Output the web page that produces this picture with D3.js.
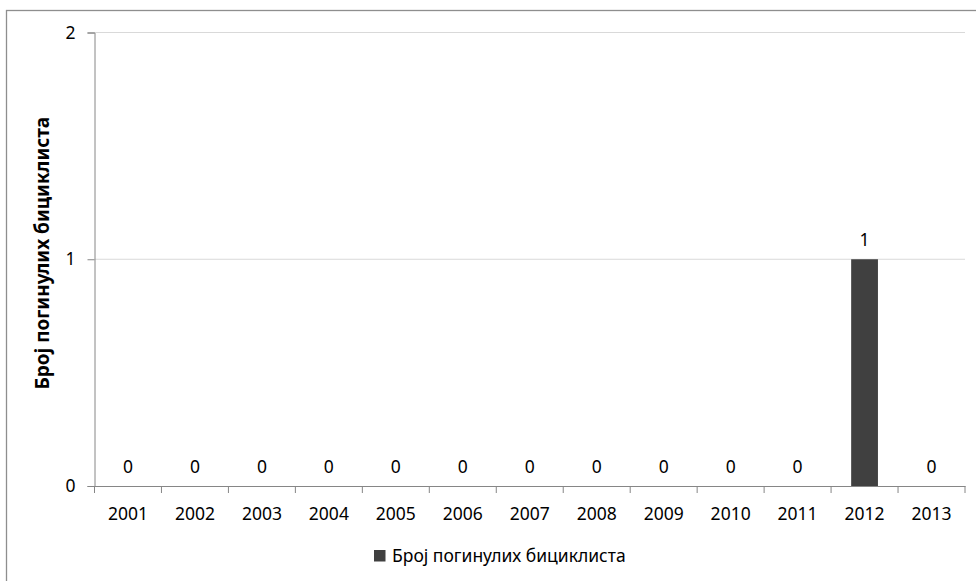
<!DOCTYPE html>
<html>
<head>
<meta charset="utf-8">
<script src="https://cdn.jsdelivr.net/npm/d3@7"></script>
<style>
  html, body { margin: 0; padding: 0; background: #fff; }
  svg { display: block; }
  text { font-family: "Noto Sans", "Open Sans", sans-serif; fill: #000; }
</style>
</head>
<body>
<svg id="chart" width="976" height="581"></svg>
<script>
// Chart data
const years = ["2001","2002","2003","2004","2005","2006","2007","2008","2009","2010","2011","2012","2013"];
const deaths = [0,0,0,0,0,0,0,0,0,0,0,1,0];
const yTicks = [0, 1, 2];
const seriesName = "Број погинулих бициклиста";
const yTitle = "Број погинулих бициклиста";

const svg = d3.select("#chart");
const W = 976, H = 581;

// Outer chart frame
svg.append("rect")
  .attr("x", 6.5).attr("y", 10.5)
  .attr("width", W + 20).attr("height", H + 20)
  .attr("fill", "#fff").attr("stroke", "#8e8e8e").attr("stroke-width", 1.3);

const plot = { left: 94.5, right: 965, top: 32.5, bottom: 486 };

const x = d3.scaleBand().domain(years).range([plot.left, plot.right]).paddingInner(0).paddingOuter(0);
const y = d3.scaleLinear().domain([0, 2]).range([plot.bottom, plot.top]);

// Horizontal gridlines
svg.append("g").selectAll("line").data(yTicks.filter(d => d > 0)).join("line")
  .attr("x1", plot.left).attr("x2", plot.right)
  .attr("y1", d => y(d)).attr("y2", d => y(d))
  .attr("stroke", "#d9d9d9").attr("stroke-width", 1);

// Bars
const barW = x.bandwidth() * 0.4;
svg.append("g").selectAll("rect").data(years).join("rect")
  .attr("x", (d) => x(d) + (x.bandwidth() - barW) / 2)
  .attr("width", barW)
  .attr("y", (d, i) => y(deaths[i]))
  .attr("height", (d, i) => y(0) - y(deaths[i]))
  .attr("fill", "#404040");

// Value labels
svg.append("g").selectAll("text").data(years).join("text")
  .attr("x", d => x(d) + x.bandwidth() / 2)
  .attr("y", (d, i) => y(deaths[i]) - 13.5)
  .attr("text-anchor", "middle")
  .style("font-size", "17.5px")
  .text((d, i) => deaths[i]);

// Y axis
const yAxis = d3.axisLeft(y).tickValues(yTicks).tickFormat(d3.format("d")).tickSize(7).tickPadding(12);
const gy = svg.append("g").attr("transform", `translate(${plot.left},0)`).call(yAxis);
gy.select(".domain").attr("stroke", "#868686");
gy.selectAll(".tick line").attr("stroke", "#868686");
gy.selectAll(".tick text").style("font-size", "17.5px").attr("fill", "#000");

// X axis with ticks on band boundaries
const gx = svg.append("g").attr("transform", `translate(0,${plot.bottom})`)
  .call(d3.axisBottom(x).tickSize(0));
gx.select(".domain").attr("stroke", "#868686");
gx.selectAll(".tick text").style("font-size", "17.5px").attr("fill", "#000")
  .attr("y", 34).attr("dy", null);
const bounds = years.map(d => x(d)).concat([x(years[years.length - 1]) + x.bandwidth()]);
gx.append("g").selectAll("line").data(bounds).join("line")
  .attr("x1", d => d).attr("x2", d => d)
  .attr("y1", 0).attr("y2", 7)
  .attr("stroke", "#868686");

// Y axis title
svg.append("text")
  .attr("transform", `translate(49,${(plot.top + plot.bottom) / 2 - 6}) rotate(-90)`)
  .attr("text-anchor", "middle")
  .style("font-size", "19px").style("font-weight", "bold")
  .text(yTitle);

// Legend
const lg = svg.append("g").attr("transform", "translate(374,550)");
lg.append("rect").attr("width", 11.5).attr("height", 11.5).attr("fill", "#404040");
lg.append("text").attr("x", 18).attr("y", 12).style("font-size", "17.5px").text(seriesName);
</script>
</body>
</html>
